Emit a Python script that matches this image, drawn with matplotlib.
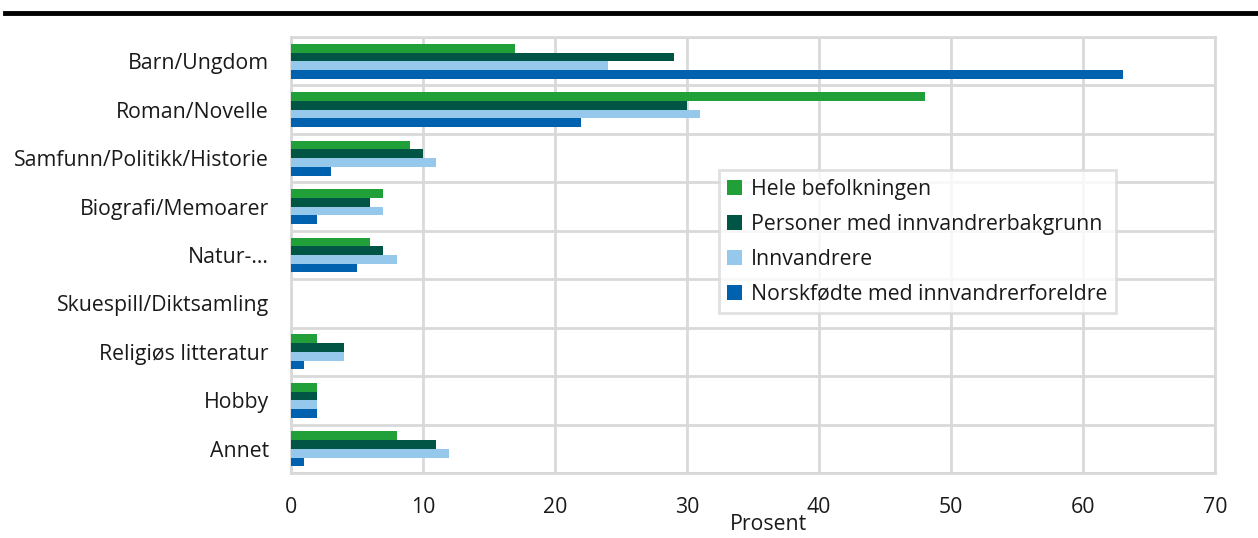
import numpy as np
import matplotlib
matplotlib.use("Agg")
import matplotlib.pyplot as plt
from matplotlib.ticker import MultipleLocator, FixedLocator

plt.rcParams['font.family'] = ['Open Sans', 'DejaVu Sans']

categories = ['Barn/Ungdom', 'Roman/Novelle', 'Samfunn/Politikk/Historie',
              'Biografi/Memoarer', 'Natur-...', 'Skuespill/Diktsamling',
              'Religiøs litteratur', 'Hobby', 'Annet']
series_names = ['Hele befolkningen', 'Personer med innvandrerbakgrunn',
                'Innvandrere', 'Norskfødte med innvandrerforeldre']
hele = [17, 48, 9, 7, 6, 0, 2, 2, 8]
personer = [29, 30, 10, 6, 7, 0, 4, 2, 11]
innvandrere = [24, 31, 11, 7, 8, 0, 4, 2, 12]
norskfodte = [63, 22, 3, 2, 5, 0, 1, 2, 1]
colors = ['#21a03a', '#005545', '#96c8ec', '#0062ae']

fs = 15.3
txt = '#1a1a1a'

fig = plt.figure(figsize=(12.58, 5.38), dpi=100)
ax = fig.add_axes([0.2313, 0.1208, 0.7345, 0.8104])

y = np.arange(len(categories))
h = 0.18
for i, (vals, name, c) in enumerate(zip([hele, personer, innvandrere, norskfodte], series_names, colors)):
    ax.barh(y - 1.5 * h + i * h, vals, height=h, color=c, label=name, zorder=3)

ax.set_xlim(0, 70)
ax.set_ylim(len(categories) - 0.5, -0.5)
ax.xaxis.set_major_locator(MultipleLocator(10))
ax.set_yticks(y)
ax.set_yticklabels(categories)
ax.yaxis.set_minor_locator(FixedLocator(np.arange(-0.5, len(categories), 1)))
ax.grid(axis='x', which='major', color='#d9d9d9', linewidth=2, zorder=0)
ax.grid(axis='y', which='minor', color='#d9d9d9', linewidth=2, zorder=0)
ax.tick_params(axis='both', which='both', length=0, labelsize=fs, colors=txt)
ax.tick_params(axis='x', pad=17)
ax.tick_params(axis='y', pad=16)
for s in ax.spines.values():
    s.set_color('#d9d9d9')
    s.set_linewidth(2)

fig.text(0.6105, 0.025, 'Prosent', ha='center', va='center', fontsize=fs, color=txt)

leg = ax.legend(loc='upper left', bbox_to_anchor=(0.5715, 0.684), bbox_transform=fig.transFigure,
                fontsize=fs, frameon=True, fancybox=False, handlelength=0.7, handleheight=0.7,
                handletextpad=0.4, labelspacing=0.66, borderpad=0.4, borderaxespad=0)
leg.get_frame().set_edgecolor('#d9d9d9')
leg.get_frame().set_linewidth(2)
for t in leg.get_texts():
    t.set_color(txt)

# black rule at the top
fig.add_artist(plt.Line2D([0.004, 1.0], [0.976, 0.976], color='black', linewidth=3.5, transform=fig.transFigure))

fig.savefig('out.png', dpi=100)
